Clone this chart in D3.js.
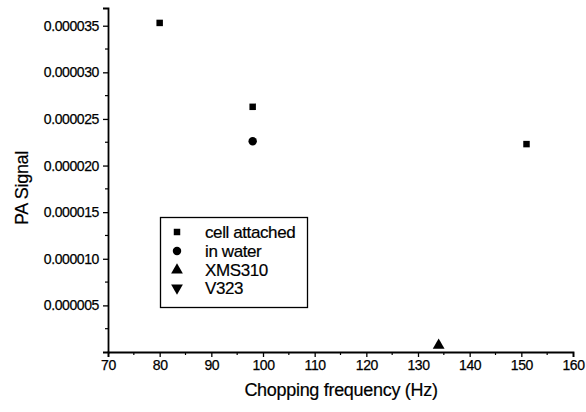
<!DOCTYPE html>
<html><head><meta charset="utf-8">
<script src="https://cdn.jsdelivr.net/npm/d3@7"></script>
<style>
body{margin:0;background:#fff;}
text{font-family:"Liberation Sans",Arial,sans-serif;fill:#000;}
</style></head>
<body><svg id="c" width="586" height="412"></svg>
<script>
const seriesNames = ["cell attached","in water","XMS310","V323"];
const cellAttached = [{x:80,y:0.0000353},{x:98,y:0.0000263},{x:151,y:0.0000223}];
const inWater = [{x:98,y:0.0000226}];
const xms310 = [{x:134,y:0.0000005}];
const v323 = [];
const xTicks = [70,80,90,100,110,120,130,140,150,160];
const yTicks = [0.000005,0.000010,0.000015,0.000020,0.000025,0.000030,0.000035];

const svg = d3.select("#c");
const m = {l:108, r:13, t:8, b:60};
const W = 586, H = 412;
const x = d3.scaleLinear().domain([70,160]).range([m.l, W-m.r]);
const y = d3.scaleLinear().domain([0,0.0000369]).range([H-m.b, m.t]);

// minor ticks
const xMinor = d3.range(75,160,10);
const yMinor = d3.range(0.0000025,0.0000369,0.000005);
const g = svg.append("g");
g.selectAll(".xm").data(xMinor).join("line")
 .attr("x1",d=>x(d)).attr("x2",d=>x(d)).attr("y1",y(0)).attr("y2",y(0)+3)
 .attr("stroke","#000").attr("stroke-width",1.2);
g.selectAll(".ym").data(yMinor).join("line")
 .attr("y1",d=>y(d)).attr("y2",d=>y(d)).attr("x1",x(70)).attr("x2",x(70)-3)
 .attr("stroke","#000").attr("stroke-width",1.2);

const xAxis = d3.axisBottom(x).tickValues(xTicks).tickSize(5).tickPadding(3).tickFormat(d3.format("d"));
const yAxis = d3.axisLeft(y).tickValues(yTicks).tickSize(5).tickPadding(4).tickFormat(d=>d.toFixed(6));
const gx = svg.append("g").attr("transform",`translate(0,${y(0)})`).call(xAxis);
const gy = svg.append("g").attr("transform",`translate(${x(70)},0)`).call(yAxis);
[gx,gy].forEach(a=>{
  a.select(".domain").attr("stroke","#000").attr("stroke-width",1.8);
  a.selectAll(".tick line").attr("stroke","#000").attr("stroke-width",1.3);
  a.selectAll("text").style("font-size","14px").style("letter-spacing","-0.4px").attr("fill","#000")
   .attr("stroke","#000").attr("stroke-width",0.25);
});

// axis titles
svg.append("text").attr("x",341).attr("y",396).attr("text-anchor","middle")
 .style("font-size","18px").style("letter-spacing","-0.3px").attr("stroke","#000").attr("stroke-width",0.2)
 .text("Chopping frequency (Hz)");
svg.append("text").attr("transform",`translate(28,${188}) rotate(-90)`).attr("text-anchor","middle")
 .style("font-size","18px").style("letter-spacing","-0.3px").attr("stroke","#000").attr("stroke-width",0.2)
 .text("PA Signal");

// markers
const shapes = [d3.symbolSquare, d3.symbolCircle, d3.symbolTriangle, d3.symbolTriangle];
const sizes = [42, 56, 60, 60];
const rots = [0,0,0,180];
const data = [cellAttached, inWater, xms310, v323];
data.forEach((arr,i)=>{
  svg.append("g").selectAll("path").data(arr).join("path")
   .attr("d", d3.symbol().type(shapes[i]).size(sizes[i]))
   .attr("transform", d=>`translate(${x(d.x)},${y(d.y)+(i>=2?-2:0)}) rotate(${rots[i]})`)
   .attr("fill","#000");
});

// legend
const lg = svg.append("g");
lg.append("rect").attr("x",160.5).attr("y",217.5).attr("width",147).attr("height",90)
 .attr("fill","#fff").attr("stroke","#000").attr("stroke-width",1.3);
const rowY = [232,251,270,288];
seriesNames.forEach((n,i)=>{
  lg.append("path").attr("d", d3.symbol().type(shapes[i]).size(sizes[i]))
   .attr("transform",`translate(177,${rowY[i]}) rotate(${rots[i]})`).attr("fill","#000");
  lg.append("text").attr("x",205).attr("y",rowY[i]+6).style("font-size","17px")
   .style("letter-spacing","-0.4px").attr("stroke","#000").attr("stroke-width",0.2).text(n);
});
</script></body></html>
